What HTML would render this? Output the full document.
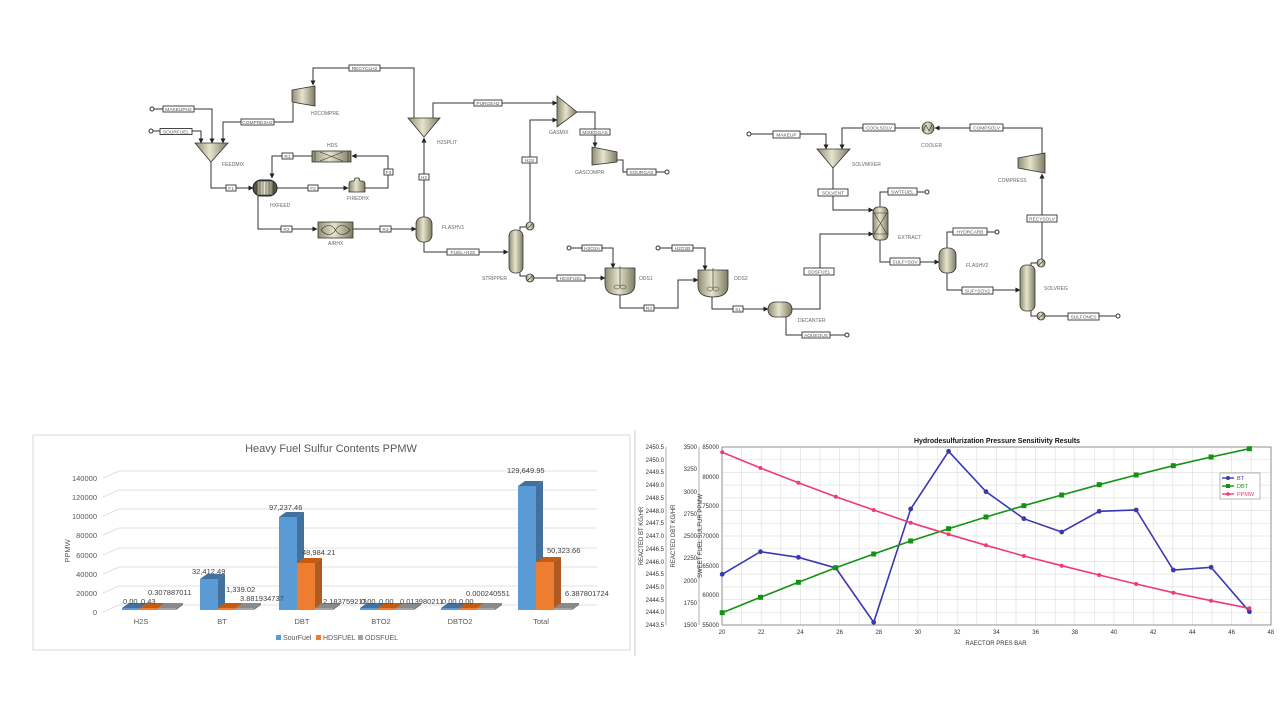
<!DOCTYPE html>
<html><head><meta charset="utf-8"><style>
html,body{margin:0;padding:0;background:#fff;width:1280px;height:720px;overflow:hidden}
svg{display:block}
text{font-family:"Liberation Sans",sans-serif}
.l{fill:none;stroke:#333;stroke-width:1}
.bx{fill:#fff;stroke:#333;stroke-width:0.9}
.bt{font-size:4.8px;fill:#555;text-anchor:middle}
.lb{font-size:5px;fill:#666}
.eq{fill:url(#g);stroke:#333;stroke-width:0.8}
.dl{font-size:7.5px;fill:#404040}
.ax{font-size:7.5px;fill:#595959}
.tk{font-size:6px;fill:#333}
</style></head><body>
<svg width="1280" height="720" viewBox="0 0 1280 720" xmlns="http://www.w3.org/2000/svg">
<defs>
<linearGradient id="g" x1="0" x2="1" y1="0" y2="0"><stop offset="0" stop-color="#8e8c72"/><stop offset="0.45" stop-color="#e6e4cc"/><stop offset="1" stop-color="#7d7b62"/></linearGradient>
<linearGradient id="gv" x1="0" x2="0" y1="0" y2="1"><stop offset="0" stop-color="#e6e4cc"/><stop offset="1" stop-color="#7d7b62"/></linearGradient>
<marker id="a" markerWidth="5" markerHeight="5" refX="4.5" refY="2.5" orient="auto" markerUnits="userSpaceOnUse"><path d="M0,0 L5,2.5 L0,5 z" fill="#222"/></marker>
</defs>

<!-- ============ FLOWSHEET LEFT ============ -->
<g>
<!-- feeds -->
<circle cx="152" cy="109" r="2" fill="#fff" stroke="#333"/><line x1="154" y1="109" x2="163" y2="109" class="l"/>
<rect x="163" y="106" width="31" height="6" class="bx"/><text x="178.5" y="110.8" class="bt">MAKEUPH2</text>
<polyline points="194,109 212,109 212,143" class="l" marker-end="url(#a)"/>
<circle cx="151" cy="131" r="2" fill="#fff" stroke="#333"/><line x1="153" y1="131" x2="160" y2="131" class="l"/>
<rect x="160" y="128.5" width="32" height="6" class="bx"/><text x="176" y="133.3" class="bt">SOURFUEL</text>
<polyline points="192,131 201,131 201,143" class="l" marker-end="url(#a)"/>
<polyline points="293,103 293,122 223,122 223,143" class="l" marker-end="url(#a)"/>
<rect x="241" y="119" width="33" height="6" class="bx"/><text x="257.5" y="123.8" class="bt">COMPRESH2</text>
<polygon points="195,143 228,143 211,162" class="eq"/>
<text x="222" y="166" class="lb">FEEDMIX</text>
<!-- H2COMPRE -->
<polygon points="292,90 315,86 315,106 292,102" class="eq"/>
<text x="311" y="115" class="lb">H2COMPRE</text>
<polyline points="414,118 414,68 313,68 313,85" class="l" marker-end="url(#a)"/>
<rect x="349" y="65" width="31" height="6" class="bx"/><text x="364.5" y="69.8" class="bt">RECYCLH2</text>
<!-- H2SPLIT -->
<polygon points="408,118 440,118 424,137" class="eq"/>
<text x="437" y="144" class="lb">H2SPLIT</text>
<line x1="424" y1="217" x2="424" y2="138" class="l" marker-end="url(#a)"/>
<rect x="419" y="174" width="10" height="6" class="bx"/><text x="424" y="178.8" class="bt">H2</text>
<polyline points="433,118 433,103 557,103" class="l" marker-end="url(#a)"/>
<rect x="474" y="100" width="28" height="6" class="bx"/><text x="488" y="104.8" class="bt">PURGEH2</text>
<!-- GASMIX -->
<polygon points="557,96 577,112 557,127" class="eq"/>
<text x="549" y="134" class="lb">GASMIX</text>
<polyline points="530,223 530,120 557,120" class="l" marker-end="url(#a)"/>
<rect x="522" y="157" width="15" height="6" class="bx"/><text x="529.5" y="161.8" class="bt">H2S</text>
<polyline points="577,112 595,112 595,147" class="l" marker-end="url(#a)"/>
<rect x="580" y="129" width="30" height="6" class="bx"/><text x="595" y="133.8" class="bt">MIXEDGAS</text>
<polygon points="592,147 617,152 617,162 592,165" class="eq"/>
<text x="575" y="174" class="lb">GASCOMPR</text>
<polyline points="617,160 623,160 623,172 665,172" class="l"/>
<rect x="627" y="169" width="29" height="6" class="bx"/><text x="641.5" y="173.8" class="bt">SOURGAS</text>
<circle cx="667" cy="172" r="2" fill="#fff" stroke="#333"/>
<!-- F1 -->
<polyline points="211,162 211,188 253,188" class="l" marker-end="url(#a)"/>
<rect x="226" y="185" width="10" height="6" class="bx"/><text x="231" y="189.8" class="bt">F1</text>
<rect x="253" y="180" width="24" height="16" rx="8" fill="#55554a" stroke="#222"/>
<rect x="257" y="181" width="16" height="14" fill="url(#g)" stroke="#333" stroke-width="0.6"/>
<line x1="260" y1="181" x2="260" y2="195" stroke="#444" stroke-width="0.5"/><line x1="263" y1="181" x2="263" y2="195" stroke="#444" stroke-width="0.5"/><line x1="266" y1="181" x2="266" y2="195" stroke="#444" stroke-width="0.5"/><line x1="269" y1="181" x2="269" y2="195" stroke="#444" stroke-width="0.5"/>
<text x="270" y="207" class="lb">HXFEED</text>
<line x1="277" y1="188" x2="348" y2="188" class="l" marker-end="url(#a)"/>
<rect x="308" y="185" width="10" height="6" class="bx"/><text x="313" y="189.8" class="bt">F2</text>
<path d="M349,192 L349,184 Q349,181 352,181 L354,181 L355,178 L359,178 L360,181 L362,181 Q365,181 365,184 L365,192 Z" class="eq"/>
<text x="347" y="200" class="lb">FIREDHX</text>
<polyline points="365,188 388,188 388,156 352,156" class="l" marker-end="url(#a)"/>
<rect x="384" y="169" width="9" height="6" class="bx"/><text x="388.5" y="173.8" class="bt">F3</text>
<rect x="312" y="151" width="39" height="11" class="eq"/>
<line x1="315" y1="151" x2="315" y2="162" stroke="#333" stroke-width="0.6"/><line x1="348" y1="151" x2="348" y2="162" stroke="#333" stroke-width="0.6"/>
<path d="M320,152 L343,161 M320,161 L343,152" stroke="#333" stroke-width="0.6"/>
<text x="327" y="147" class="lb">HDS</text>
<polyline points="312,156 272,156 272,178" class="l" marker-end="url(#a)"/>
<rect x="282" y="153" width="11" height="6" class="bx"/><text x="287.5" y="157.8" class="bt">R1</text>
<polyline points="258,196 258,229 317,229" class="l" marker-end="url(#a)"/>
<rect x="281" y="226" width="11" height="6" class="bx"/><text x="286.5" y="230.8" class="bt">R2</text>
<rect x="318" y="222" width="35" height="16" class="eq"/>
<path d="M321,230 C326,224 332,224 335.5,230 C339,236 345,236 350,230 C345,224 339,224 335.5,230 C332,236 326,236 321,230 Z" fill="none" stroke="#333" stroke-width="0.6"/>
<text x="328" y="245" class="lb">AIRHX</text>
<line x1="353" y1="229" x2="416" y2="229" class="l" marker-end="url(#a)"/>
<rect x="380" y="226" width="11" height="6" class="bx"/><text x="385.5" y="230.8" class="bt">R3</text>
<rect x="416" y="217" width="16" height="25" rx="7" class="eq"/>
<text x="442" y="229" class="lb">FLASHV1</text>
<polyline points="424,242 424,252 508,252" class="l" marker-end="url(#a)"/>
<rect x="447" y="249" width="32" height="6" class="bx"/><text x="463" y="253.8" class="bt">FUEL+H2S</text>
<!-- stripper -->
<rect x="509" y="230" width="14" height="43" rx="6" class="eq"/>
<polyline points="520,230 520,227 526,227" class="l"/>
<polyline points="520,273 520,276 526,276" class="l"/>
<circle cx="530" cy="226" r="4" class="eq"/><line x1="527" y1="229" x2="533" y2="223" stroke="#333" stroke-width="0.6"/>
<circle cx="530" cy="278" r="4" class="eq"/><line x1="527" y1="281" x2="533" y2="275" stroke="#333" stroke-width="0.6"/>
<text x="482" y="280" class="lb">STRIPPER</text>
<line x1="534" y1="278" x2="605" y2="278" class="l" marker-end="url(#a)"/>
<rect x="557" y="275" width="28" height="6" class="bx"/><text x="571" y="279.8" class="bt">HDSFUEL</text>
<circle cx="569" cy="248" r="2" fill="#fff" stroke="#333"/><line x1="571" y1="248" x2="582" y2="248" class="l"/>
<rect x="582" y="245" width="20" height="6" class="bx"/><text x="592" y="249.8" class="bt">H2O2A</text>
<polyline points="602,248 613,248 613,268" class="l" marker-end="url(#a)"/>
<path d="M605,268 L635,268 L635,284 Q635,295 620,295 Q605,295 605,284 Z" class="eq"/>
<line x1="620" y1="266" x2="620" y2="288" stroke="#333" stroke-width="0.6"/>
<ellipse cx="617" cy="287" rx="3" ry="2" fill="none" stroke="#333" stroke-width="0.5"/><ellipse cx="623" cy="287" rx="3" ry="2" fill="none" stroke="#333" stroke-width="0.5"/>
<text x="639" y="280" class="lb">ODS1</text>
</g>

<!-- ============ FLOWSHEET RIGHT ============ -->
<g>
<polyline points="620,295 620,308 678,308 678,280 698,280" class="l" marker-end="url(#a)"/>
<rect x="644" y="305" width="10" height="6" class="bx"/><text x="649" y="309.8" class="bt">R4</text>
<circle cx="658" cy="248" r="2" fill="#fff" stroke="#333"/><line x1="660" y1="248" x2="672" y2="248" class="l"/>
<rect x="672" y="245" width="21" height="6" class="bx"/><text x="682.5" y="249.8" class="bt">H2O2B</text>
<polyline points="693,248 705,248 705,270" class="l" marker-end="url(#a)"/>
<path d="M698,270 L728,270 L728,286 Q728,297 713,297 Q698,297 698,286 Z" class="eq"/>
<line x1="713" y1="268" x2="713" y2="290" stroke="#333" stroke-width="0.6"/>
<ellipse cx="710" cy="289" rx="3" ry="2" fill="none" stroke="#333" stroke-width="0.5"/><ellipse cx="716" cy="289" rx="3" ry="2" fill="none" stroke="#333" stroke-width="0.5"/>
<text x="734" y="280" class="lb">ODS2</text>
<polyline points="712,297 712,309 768,309" class="l" marker-end="url(#a)"/>
<rect x="733" y="306" width="10" height="6" class="bx"/><text x="738" y="310.8" class="bt">S1</text>
<rect x="768" y="302" width="24" height="15" rx="7" class="eq"/>
<text x="798" y="322" class="lb">DECANTER</text>
<polyline points="786,317 786,335 845,335" class="l"/>
<rect x="802" y="332" width="28" height="6" class="bx"/><text x="816" y="336.8" class="bt">AQUEOUS</text>
<circle cx="847" cy="335" r="2" fill="#fff" stroke="#333"/>
<polyline points="792,309 820,309 820,234 873,234" class="l" marker-end="url(#a)"/>
<rect x="804" y="268" width="30" height="7" class="bx"/><text x="819" y="273.3" class="bt">ODSFUEL</text>
<rect x="873" y="207" width="15" height="33" rx="5" class="eq"/>
<path d="M874,213 L887,234 M874,234 L887,213 M873,213 L888,213 M873,234 L888,234" stroke="#333" stroke-width="0.6"/>
<text x="898" y="239" class="lb">EXTRACT</text>
<circle cx="749" cy="134" r="2" fill="#fff" stroke="#333"/><line x1="751" y1="134" x2="773" y2="134" class="l"/>
<rect x="773" y="131" width="27" height="7" class="bx"/><text x="786.5" y="136.3" class="bt">MAKEUP</text>
<polyline points="800,134 826,134 826,149" class="l" marker-end="url(#a)"/>
<polygon points="817,149 850,149 833,168" class="eq"/>
<text x="852" y="166" class="lb">SOLVMIXER</text>
<polyline points="920,128 842,128 842,149" class="l" marker-end="url(#a)"/>
<rect x="863" y="124" width="32" height="7" class="bx"/><text x="879" y="129.3" class="bt">COOLSOLV</text>
<circle cx="928" cy="128" r="6" class="eq"/>
<polyline points="923,131 926,125 929,131 932,125" fill="none" stroke="#333" stroke-width="0.6"/>
<text x="921" y="147" class="lb">COOLER</text>
<polyline points="1042,157 1042,128 935,128" class="l" marker-end="url(#a)"/>
<rect x="970" y="124" width="33" height="7" class="bx"/><text x="986.5" y="129.3" class="bt">COMPSOLV</text>
<polygon points="1018,158 1045,153 1045,173 1018,168" class="eq"/>
<text x="998" y="182" class="lb">COMPRESS</text>
<line x1="1042" y1="262" x2="1042" y2="174" class="l" marker-end="url(#a)"/>
<rect x="1027" y="215" width="30" height="7" class="bx"/><text x="1042" y="220.3" class="bt">RECYSOLV</text>
<polyline points="833,168 833,210 873,210" class="l" marker-end="url(#a)"/>
<rect x="818" y="189" width="30" height="7" class="bx"/><text x="833" y="194.3" class="bt">SOLVENT</text>
<polyline points="880,207 880,192 925,192" class="l"/>
<rect x="888" y="188" width="29" height="7" class="bx"/><text x="902.5" y="193.3" class="bt">SWTFUEL</text>
<circle cx="927" cy="192" r="2" fill="#fff" stroke="#333"/>
<polyline points="880,240 880,262 939,262" class="l" marker-end="url(#a)"/>
<rect x="890" y="258" width="30" height="7" class="bx"/><text x="905" y="263.3" class="bt">SULF+SOV</text>
<rect x="939" y="248" width="17" height="25" rx="7" class="eq"/>
<text x="966" y="267" class="lb">FLASHV2</text>
<polyline points="947,248 947,232 995,232" class="l"/>
<rect x="953" y="228" width="34" height="7" class="bx"/><text x="970" y="233.3" class="bt">HYDRCARB</text>
<circle cx="997" cy="232" r="2" fill="#fff" stroke="#333"/>
<polyline points="947,273 947,290 1020,290" class="l" marker-end="url(#a)"/>
<rect x="962" y="287" width="31" height="7" class="bx"/><text x="977.5" y="292.3" class="bt">SUF+SOV2</text>
<rect x="1020" y="265" width="15" height="46" rx="6" class="eq"/>
<polyline points="1031,265 1031,263 1037,263" class="l"/>
<polyline points="1031,311 1031,316 1037,316" class="l"/>
<circle cx="1041" cy="263" r="4" class="eq"/><line x1="1038" y1="266" x2="1044" y2="260" stroke="#333" stroke-width="0.6"/>
<circle cx="1041" cy="316" r="4" class="eq"/><line x1="1038" y1="319" x2="1044" y2="313" stroke="#333" stroke-width="0.6"/>
<text x="1044" y="290" class="lb">SOLVREG</text>
<line x1="1045" y1="316" x2="1116" y2="316" class="l"/>
<rect x="1068" y="313" width="31" height="7" class="bx"/><text x="1083.5" y="318.3" class="bt">SULFONES</text>
<circle cx="1118" cy="316" r="2" fill="#fff" stroke="#333"/>
</g>

<!-- ============ BAR CHART ============ -->
<rect x="33" y="435" width="597" height="215" fill="#fff" stroke="#d9d9d9"/>
<text x="331" y="452" font-size="11" fill="#595959" text-anchor="middle">Heavy Fuel Sulfur Contents PPMW</text>
<g stroke="#d9d9d9" stroke-width="0.8" fill="none">
<polyline points="103,612 119,605 597,605"/>
<polyline points="103,593 119,586 597,586"/>
<polyline points="103,574 119,567 597,567"/>
<polyline points="103,555 119,548 597,548"/>
<polyline points="103,535 119,528 597,528"/>
<polyline points="103,516 119,509 597,509"/>
<polyline points="103,497 119,490 597,490"/>
<polyline points="103,478 119,471 597,471"/>
</g>
<g class="ax" text-anchor="end">
<text x="97" y="615">0</text><text x="97" y="596">20000</text><text x="97" y="577">40000</text><text x="97" y="558">60000</text><text x="97" y="538">80000</text><text x="97" y="519">100000</text><text x="97" y="500">120000</text><text x="97" y="481">140000</text>
</g>
<text x="0" y="0" class="ax" transform="translate(70,551) rotate(-90)" text-anchor="middle">PPMW</text>
<g id="bars">
<!-- helper: front rect, side, top -->
<!-- H2S -->
<rect x="122" y="608" width="18" height="2" fill="#5b9bd5"/><polygon points="140,608 147,603 147,605 140,610" fill="#41719c"/><polygon points="122,608 129,603 147,603 140,608" fill="#41719c"/>
<rect x="140" y="608" width="18" height="2" fill="#ed7d31"/><polygon points="158,608 165,603 165,605 158,610" fill="#ae5a21"/><polygon points="140,608 147,603 165,603 158,608" fill="#c55a11"/>
<rect x="158" y="608" width="18" height="2" fill="#a5a5a5"/><polygon points="176,608 183,603 183,605 176,610" fill="#7b7b7b"/><polygon points="158,608 165,603 183,603 176,608" fill="#8a8a8a"/>
<!-- BT -->
<rect x="200" y="579" width="18" height="31" fill="#5b9bd5"/><polygon points="218,579 225,574 225,605 218,610" fill="#41719c"/><polygon points="200,579 207,574 225,574 218,579" fill="#41719c"/>
<rect x="218" y="608" width="18" height="2" fill="#ed7d31"/><polygon points="236,608 243,603 243,605 236,610" fill="#ae5a21"/><polygon points="218,608 225,603 243,603 236,608" fill="#c55a11"/>
<rect x="236" y="608" width="18" height="2" fill="#a5a5a5"/><polygon points="254,608 261,603 261,605 254,610" fill="#7b7b7b"/><polygon points="236,608 243,603 261,603 254,608" fill="#8a8a8a"/>
<!-- DBT -->
<rect x="279" y="517" width="18" height="93" fill="#5b9bd5"/><polygon points="297,517 304,512 304,605 297,610" fill="#41719c"/><polygon points="279,517 286,512 304,512 297,517" fill="#41719c"/>
<rect x="297" y="563" width="18" height="47" fill="#ed7d31"/><polygon points="315,563 322,558 322,605 315,610" fill="#ae5a21"/><polygon points="297,563 304,558 322,558 315,563" fill="#c55a11"/>
<rect x="315" y="608" width="18" height="2" fill="#a5a5a5"/><polygon points="333,608 340,603 340,605 333,610" fill="#7b7b7b"/><polygon points="315,608 322,603 340,603 333,608" fill="#8a8a8a"/>
<!-- BTO2 -->
<rect x="360" y="608" width="18" height="2" fill="#5b9bd5"/><polygon points="378,608 385,603 385,605 378,610" fill="#41719c"/><polygon points="360,608 367,603 385,603 378,608" fill="#41719c"/>
<rect x="378" y="608" width="18" height="2" fill="#ed7d31"/><polygon points="396,608 403,603 403,605 396,610" fill="#ae5a21"/><polygon points="378,608 385,603 403,603 396,608" fill="#c55a11"/>
<rect x="396" y="608" width="18" height="2" fill="#a5a5a5"/><polygon points="414,608 421,603 421,605 414,610" fill="#7b7b7b"/><polygon points="396,608 403,603 421,603 414,608" fill="#8a8a8a"/>
<!-- DBTO2 -->
<rect x="441" y="608" width="18" height="2" fill="#5b9bd5"/><polygon points="459,608 466,603 466,605 459,610" fill="#41719c"/><polygon points="441,608 448,603 466,603 459,608" fill="#41719c"/>
<rect x="459" y="608" width="18" height="2" fill="#ed7d31"/><polygon points="477,608 484,603 484,605 477,610" fill="#ae5a21"/><polygon points="459,608 466,603 484,603 477,608" fill="#c55a11"/>
<rect x="477" y="608" width="18" height="2" fill="#a5a5a5"/><polygon points="495,608 502,603 502,605 495,610" fill="#7b7b7b"/><polygon points="477,608 484,603 502,603 495,608" fill="#8a8a8a"/>
<!-- Total -->
<rect x="518" y="486" width="18" height="124" fill="#5b9bd5"/><polygon points="536,486 543,481 543,605 536,610" fill="#41719c"/><polygon points="518,486 525,481 543,481 536,486" fill="#41719c"/>
<rect x="536" y="562" width="18" height="48" fill="#ed7d31"/><polygon points="554,562 561,557 561,605 554,610" fill="#ae5a21"/><polygon points="536,562 543,557 561,557 554,562" fill="#c55a11"/>
<rect x="554" y="608" width="18" height="2" fill="#a5a5a5"/><polygon points="572,608 579,603 579,605 572,610" fill="#7b7b7b"/><polygon points="554,608 561,603 579,603 572,608" fill="#8a8a8a"/>
</g>
<g class="dl">
<text x="123" y="604">0.00</text><text x="141" y="604">0.43</text><text x="148" y="595">0.307887011</text>
<text x="192" y="574">32,412.49</text><text x="226" y="592">1,339.02</text><text x="240" y="601">3.881934737</text>
<text x="269" y="510">97,237.46</text><text x="302" y="555">48,984.21</text><text x="323" y="604">2.183759213</text>
<text x="361" y="604">0.00</text><text x="379" y="604">0.00</text><text x="400" y="604">0.013980211</text>
<text x="442" y="604">0.00</text><text x="459" y="604">0.00</text><text x="466" y="596">0.000240551</text>
<text x="507" y="473">129,649.95</text><text x="547" y="553">50,323.66</text><text x="565" y="596">6.387801724</text>
</g>
<g class="ax" text-anchor="middle">
<text x="141" y="624">H2S</text><text x="222" y="624">BT</text><text x="302" y="624">DBT</text><text x="381" y="624">BTO2</text><text x="460" y="624">DBTO2</text><text x="541" y="624">Total</text>
</g>
<g font-size="7" fill="#595959">
<rect x="276" y="635" width="5" height="5" fill="#5b9bd5"/><text x="283" y="640">SourFuel</text>
<rect x="316" y="635" width="5" height="5" fill="#ed7d31"/><text x="323" y="640">HDSFUEL</text>
<rect x="358" y="635" width="5" height="5" fill="#a5a5a5"/><text x="365" y="640">ODSFUEL</text>
</g>

<line x1="635" y1="430" x2="635" y2="656" stroke="#ccc"/>

<!-- ============ LINE CHART ============ -->
<text x="997" y="443" font-size="7" font-weight="bold" fill="#111" text-anchor="middle">Hydrodesulfurization Pressure Sensitivity Results</text>
<g stroke="#e2e2e2" stroke-width="0.7">
<line x1="741.6" y1="447" x2="741.6" y2="625"/><line x1="761.2" y1="447" x2="761.2" y2="625"/><line x1="780.8" y1="447" x2="780.8" y2="625"/><line x1="800.4" y1="447" x2="800.4" y2="625"/><line x1="820" y1="447" x2="820" y2="625"/><line x1="839.6" y1="447" x2="839.6" y2="625"/><line x1="859.2" y1="447" x2="859.2" y2="625"/><line x1="878.8" y1="447" x2="878.8" y2="625"/><line x1="898.4" y1="447" x2="898.4" y2="625"/><line x1="918" y1="447" x2="918" y2="625"/><line x1="937.6" y1="447" x2="937.6" y2="625"/><line x1="957.2" y1="447" x2="957.2" y2="625"/><line x1="976.8" y1="447" x2="976.8" y2="625"/><line x1="996.4" y1="447" x2="996.4" y2="625"/><line x1="1016" y1="447" x2="1016" y2="625"/><line x1="1035.6" y1="447" x2="1035.6" y2="625"/><line x1="1055.2" y1="447" x2="1055.2" y2="625"/><line x1="1074.8" y1="447" x2="1074.8" y2="625"/><line x1="1094.4" y1="447" x2="1094.4" y2="625"/><line x1="1114" y1="447" x2="1114" y2="625"/><line x1="1133.6" y1="447" x2="1133.6" y2="625"/><line x1="1153.2" y1="447" x2="1153.2" y2="625"/><line x1="1172.8" y1="447" x2="1172.8" y2="625"/><line x1="1192.4" y1="447" x2="1192.4" y2="625"/><line x1="1212" y1="447" x2="1212" y2="625"/><line x1="1231.6" y1="447" x2="1231.6" y2="625"/><line x1="1251.2" y1="447" x2="1251.2" y2="625"/>
<line x1="722" y1="459.7" x2="1271" y2="459.7"/><line x1="722" y1="472.4" x2="1271" y2="472.4"/><line x1="722" y1="485.1" x2="1271" y2="485.1"/><line x1="722" y1="497.9" x2="1271" y2="497.9"/><line x1="722" y1="510.6" x2="1271" y2="510.6"/><line x1="722" y1="523.3" x2="1271" y2="523.3"/><line x1="722" y1="536" x2="1271" y2="536"/><line x1="722" y1="548.7" x2="1271" y2="548.7"/><line x1="722" y1="561.4" x2="1271" y2="561.4"/><line x1="722" y1="574.1" x2="1271" y2="574.1"/><line x1="722" y1="586.9" x2="1271" y2="586.9"/><line x1="722" y1="599.6" x2="1271" y2="599.6"/><line x1="722" y1="612.3" x2="1271" y2="612.3"/>
</g>
<rect x="722" y="447" width="549" height="178" fill="none" stroke="#777" stroke-width="0.8"/>
<line x1="699" y1="447" x2="699" y2="625" stroke="#777" stroke-width="0.6"/>
<line x1="666" y1="447" x2="666" y2="625" stroke="#777" stroke-width="0.6"/>
<g class="tk" text-anchor="end">
<text x="719" y="449">85000</text><text x="719" y="479">80000</text><text x="719" y="508">75000</text><text x="719" y="538">70000</text><text x="719" y="568">65000</text><text x="719" y="597">60000</text><text x="719" y="627">55000</text>
<text x="697" y="449">3500</text><text x="697" y="471">3250</text><text x="697" y="494">3000</text><text x="697" y="516">2750</text><text x="697" y="538">2500</text><text x="697" y="560">2250</text><text x="697" y="583">2000</text><text x="697" y="605">1750</text><text x="697" y="627">1500</text>
<text x="664" y="449">2450.5</text><text x="664" y="462">2450.0</text><text x="664" y="474">2449.5</text><text x="664" y="487">2449.0</text><text x="664" y="500">2448.5</text><text x="664" y="513">2448.0</text><text x="664" y="525">2447.5</text><text x="664" y="538">2447.0</text><text x="664" y="551">2446.5</text><text x="664" y="564">2446.0</text><text x="664" y="576">2445.5</text><text x="664" y="589">2445.0</text><text x="664" y="602">2444.5</text><text x="664" y="614">2444.0</text><text x="664" y="627">2443.5</text>
</g>
<g class="tk" text-anchor="middle">
<text x="722" y="634">20</text><text x="761.2" y="634">22</text><text x="800.4" y="634">24</text><text x="839.6" y="634">26</text><text x="878.8" y="634">28</text><text x="918" y="634">30</text><text x="957.2" y="634">32</text><text x="996.4" y="634">34</text><text x="1035.6" y="634">36</text><text x="1074.8" y="634">38</text><text x="1114" y="634">40</text><text x="1153.2" y="634">42</text><text x="1192.4" y="634">44</text><text x="1231.6" y="634">46</text><text x="1270.8" y="634">48</text>
<text x="996" y="645">RAECTOR PRES BAR</text>
</g>
<text class="tk" transform="translate(643,536) rotate(-90)" text-anchor="middle">REACTED BT KG/HR</text>
<text class="tk" transform="translate(675,536) rotate(-90)" text-anchor="middle">REACTED DBT KG/HR</text>
<text class="tk" transform="translate(702,536) rotate(-90)" text-anchor="middle">SWEET FUEL SULFUR PPMW</text>
<polyline fill="none" stroke="#3a3ab0" stroke-width="1.6" points="722.2,574.3 760.5,551.7 798.4,557.3 835.8,568 873.7,622.3 910.7,509 948.6,451.3 986,491.7 1023.9,518.7 1061.7,532 1099.2,511.3 1136.2,510 1173.3,570 1211.1,567.3 1249.4,611.7"/>
<g fill="#3a3ab0"><circle cx="722.2" cy="574.3" r="2.4"/><circle cx="760.5" cy="551.7" r="2.4"/><circle cx="798.4" cy="557.3" r="2.4"/><circle cx="835.8" cy="568" r="2.4"/><circle cx="873.7" cy="622.3" r="2.4"/><circle cx="910.7" cy="509" r="2.4"/><circle cx="948.6" cy="451.3" r="2.4"/><circle cx="986" cy="491.7" r="2.4"/><circle cx="1023.9" cy="518.7" r="2.4"/><circle cx="1061.7" cy="532" r="2.4"/><circle cx="1099.2" cy="511.3" r="2.4"/><circle cx="1136.2" cy="510" r="2.4"/><circle cx="1173.3" cy="570" r="2.4"/><circle cx="1211.1" cy="567.3" r="2.4"/><circle cx="1249.4" cy="611.7" r="2.4"/></g>
<polyline fill="none" stroke="#149214" stroke-width="1.6" points="722.2,612.7 760.5,597.3 798.4,582.3 835.8,567.7 873.7,554 910.7,541 948.6,528.7 986,517 1023.9,505.7 1061.7,495 1099.2,484.7 1136.2,475 1173.3,465.7 1211.1,457 1249.4,448.7"/>
<g fill="#149214"><rect x="719.7" y="610.2" width="5" height="5"/><rect x="758" y="594.8" width="5" height="5"/><rect x="795.9" y="579.8" width="5" height="5"/><rect x="833.3" y="565.2" width="5" height="5"/><rect x="871.2" y="551.5" width="5" height="5"/><rect x="908.2" y="538.5" width="5" height="5"/><rect x="946.1" y="526.2" width="5" height="5"/><rect x="983.5" y="514.5" width="5" height="5"/><rect x="1021.4" y="503.2" width="5" height="5"/><rect x="1059.2" y="492.5" width="5" height="5"/><rect x="1096.7" y="482.2" width="5" height="5"/><rect x="1133.7" y="472.5" width="5" height="5"/><rect x="1170.8" y="463.2" width="5" height="5"/><rect x="1208.6" y="454.5" width="5" height="5"/><rect x="1246.9" y="446.2" width="5" height="5"/></g>
<polyline fill="none" stroke="#ee3a7a" stroke-width="1.6" points="722.2,452.3 760.5,468 798.4,482.7 835.8,496.7 873.7,510 910.7,522.7 948.6,534.3 986,545.3 1023.9,556 1061.7,565.7 1099.2,575 1136.2,584 1173.3,592.7 1211.1,600.7 1249.4,608.3"/>
<g fill="#ee3a7a"><circle cx="722.2" cy="452.3" r="2"/><circle cx="760.5" cy="468" r="2"/><circle cx="798.4" cy="482.7" r="2"/><circle cx="835.8" cy="496.7" r="2"/><circle cx="873.7" cy="510" r="2"/><circle cx="910.7" cy="522.7" r="2"/><circle cx="948.6" cy="534.3" r="2"/><circle cx="986" cy="545.3" r="2"/><circle cx="1023.9" cy="556" r="2"/><circle cx="1061.7" cy="565.7" r="2"/><circle cx="1099.2" cy="575" r="2"/><circle cx="1136.2" cy="584" r="2"/><circle cx="1173.3" cy="592.7" r="2"/><circle cx="1211.1" cy="600.7" r="2"/><circle cx="1249.4" cy="608.3" r="2"/></g>
<rect x="1220" y="473" width="40" height="26" fill="#fff" stroke="#888" stroke-width="0.6"/>
<g font-size="5.5">
<line x1="1222" y1="478" x2="1234" y2="478" stroke="#3a3ab0" stroke-width="1.4"/><circle cx="1228" cy="478" r="2" fill="#3a3ab0"/><text x="1237" y="480" fill="#3a3ab0">BT</text>
<line x1="1222" y1="486" x2="1234" y2="486" stroke="#149214" stroke-width="1.4"/><rect x="1226" y="484" width="4" height="4" fill="#149214"/><text x="1237" y="488" fill="#149214">DBT</text>
<line x1="1222" y1="494" x2="1234" y2="494" stroke="#ee3a7a" stroke-width="1.4"/><circle cx="1228" cy="494" r="1.8" fill="#ee3a7a"/><text x="1237" y="496" fill="#ee3a7a">PPMW</text>
</g>
</svg>
</body></html>
